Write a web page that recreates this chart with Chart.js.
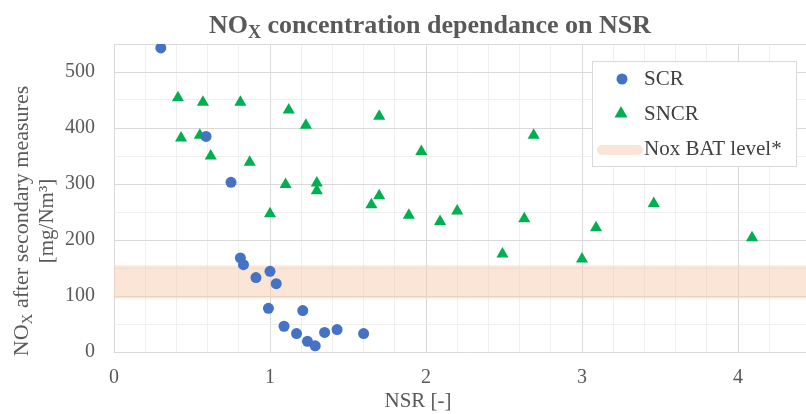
<!DOCTYPE html>
<html>
<head>
<meta charset="utf-8">
<script src="https://cdn.jsdelivr.net/npm/chart.js@4.4.1/dist/chart.umd.min.js"></script>
<style>
html,body{margin:0;padding:0;background:#fff;overflow:hidden;}
#wrap{width:830px;height:414px;}
</style>
</head>
<body>
<div id="wrap"><canvas id="noxChart" width="830" height="414"></canvas></div>
<script>

/* Data */

const scrNsr=[0.30,0.59,0.75,0.81,0.83,0.91,1.00,1.04,0.99,1.21,1.09,1.17,1.24,1.29,1.35,1.43,1.60];
const scrNox=[543,385,303,168,156,133,144,122,78,74,46,33,19,11,35,40,33];

const sncrNsr=[0.41,0.43,0.55,0.57,0.62,0.81,0.87,1.00,1.10,1.12,1.23,1.30,1.30,1.65,1.70,1.70,1.89,1.97,2.09,2.20,2.49,2.63,2.69,3.00,3.09,3.46,4.09];
const sncrNox=[454,382,387,446,350,446,339,247,299,432,405,302,288,263,279,421,244,358,233,252,175,238,387,166,222,265,204];

const batNsr=[0,4.5];
const batNox=[125,125];

const xTicks=[0,1,2,3,4];
const yTicks=[0,100,200,300,400,500];

/* Styles */

const serif="'Liberation Serif','Times New Roman',serif";
const axisGrey="#595959";
const majorGrid="#d9d9d9";
const minorGrid="#efefef";

const toPoints=(xs,ys)=>xs.map((x,i)=>({x:x,y:ys[i]}));
const inList=(v,list)=>list.some(t=>Math.abs(t-v)<1e-6);

/* text with a subscript part: [main, sub, rest] */
function drawSub(ctx,parts,x,y,font,subFont,drop,align){
ctx.font=font;
const w0=ctx.measureText(parts[0]).width;
const w2=ctx.measureText(parts[2]).width;
ctx.font=subFont;
const w1=ctx.measureText(parts[1]).width;
let sx=align==="center"?x-(w0+w1+w2)/2:x;
ctx.textAlign="left";
ctx.textBaseline="alphabetic";
ctx.font=font;
ctx.fillText(parts[0],sx,y);
ctx.font=subFont;
ctx.fillText(parts[1],sx+w0,y+drop);
ctx.font=font;
ctx.fillText(parts[2],sx+w0+w1,y);
}

/* Titles and legend */

const textPlugin={
id:"texts",
afterDraw(chart){

const ctx=chart.ctx;
ctx.save();

ctx.fillStyle=axisGrey;
drawSub(ctx,["NO","X"," concentration dependance on NSR"],430,33,"bold 26px "+serif,"bold 18px "+serif,5,"center");

ctx.font="21px "+serif;
ctx.textAlign="center";
ctx.textBaseline="alphabetic";
ctx.fillText("NSR [-]",418,407);

ctx.save();
ctx.translate(0,221);
ctx.rotate(-Math.PI/2);
drawSub(ctx,["NO","X"," after secondary measures"],0,28,"22px "+serif,"15px "+serif,4,"center");
ctx.font="21px "+serif;
ctx.textAlign="center";
ctx.fillText("[mg/Nm\u00B3]",0,53);
ctx.restore();

/* legend box */
ctx.fillStyle="#ffffff";
ctx.fillRect(592,61,205,106);
ctx.strokeStyle="#d9d9d9";
ctx.lineWidth=1;
ctx.strokeRect(592.5,61.5,204,105);

const ds=chart.data.datasets;
ctx.font="21px "+serif;
ctx.textAlign="left";
ctx.textBaseline="alphabetic";

ctx.fillStyle=ds[0].backgroundColor;
ctx.beginPath();
ctx.arc(622,79,5.5,0,Math.PI*2);
ctx.fill();

ctx.fillStyle=ds[1].backgroundColor;
ctx.beginPath();
ctx.moveTo(621,106);
ctx.lineTo(627.5,117.5);
ctx.lineTo(614.5,117.5);
ctx.closePath();
ctx.fill();

ctx.strokeStyle=ds[2].borderColor;
ctx.lineWidth=10;
ctx.lineCap="round";
ctx.beginPath();
ctx.moveTo(602,150);
ctx.lineTo(638,150);
ctx.stroke();

ctx.fillStyle="#404040";
ctx.fillText(ds[0].label,644,85);
ctx.fillText(ds[1].label,644,120);
ctx.fillText(ds[2].label,644,155);

ctx.restore();
}
};

/* Chart */

const ctx=document.getElementById("noxChart");

const chart=new Chart(ctx,{
type:"scatter",
data:{
datasets:[{
label:"SCR",
data:toPoints(scrNsr,scrNox),
pointStyle:"circle",
pointRadius:5.5,
borderWidth:0,
backgroundColor:"#4472C4",
order:1
},{
label:"SNCR",
data:toPoints(sncrNsr,sncrNox),
pointStyle:"triangle",
pointRadius:7,
borderWidth:0,
backgroundColor:"#00B050",
order:1
},{
label:"Nox BAT level*",
data:toPoints(batNsr,batNox),
showLine:true,
pointRadius:0,
borderWidth:33,
borderColor:"rgba(248,203,173,0.5)",
backgroundColor:"rgba(248,203,173,0.5)",
order:3
}]
},
options:{
responsive:false,
animation:false,
devicePixelRatio:1,
layout:{padding:{top:44,right:13,left:0,bottom:0}},
plugins:{
legend:{display:false},
title:{display:false},
tooltip:{enabled:false}
},
scales:{
x:{
min:0,
max:4.5,
afterFit:s=>{s.height=62;},
ticks:{
stepSize:0.2,
autoSkip:false,
maxRotation:0,
padding:14,
color:axisGrey,
font:{family:serif,size:20},
callback:v=>inList(v,xTicks)?String(Math.round(v)):""
},
grid:{
drawTicks:false,
color:c=>(c.tick&&inList(c.tick.value,xTicks))?majorGrid:minorGrid
},
border:{color:majorGrid}
},
y:{
min:0,
max:550,
afterFit:s=>{s.width=114;},
ticks:{
stepSize:50,
autoSkip:false,
padding:19,
color:axisGrey,
font:{family:serif,size:20},
callback:v=>inList(v,yTicks)?String(v):""
},
grid:{
drawTicks:false,
color:c=>(c.tick&&(inList(c.tick.value,yTicks)||c.tick.value>=550))?majorGrid:minorGrid
},
border:{color:majorGrid}
}
}
},
plugins:[textPlugin]
});

</script>
</body>
</html>
